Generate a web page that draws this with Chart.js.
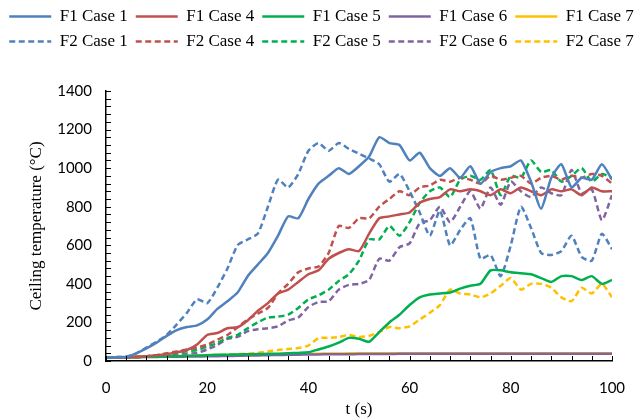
<!DOCTYPE html>
<html>
<head>
<meta charset="utf-8">
<script src="https://cdn.jsdelivr.net/npm/chart.js@4.4.1/dist/chart.umd.min.js"></script>
<style>
  body { margin: 0; background: #fff; }
</style>
</head>
<body>
<canvas id="chart-ceiling" width="643" height="420"></canvas>
<script>
const timeSec = [0, 2, 4, 6, 8, 10, 12, 14, 16, 18, 20, 22, 24, 26, 28, 30, 32, 34, 36, 38, 40, 42, 44, 46, 48, 50,
    52, 54, 56, 58, 60, 62, 64, 66, 68, 70, 72, 74, 76, 78, 80, 82, 84, 86, 88, 90, 92, 94, 96, 98, 100];

const f1Case1 = [20, 20, 22, 40, 65, 95, 130, 160, 176, 185, 215, 270, 310, 355, 440, 500, 560, 650, 750, 740, 840, 920, 960, 1000, 970, 1010,
    1060, 1160, 1130, 1120, 1040, 1080, 1000, 960, 1000, 950, 1010, 920, 980, 1000, 1010, 1040, 930, 790, 950, 1020, 900, 950, 940, 1020, 940];
const f1Case4 = [20, 20, 20, 22, 25, 30, 35, 45, 57, 85, 135, 145, 170, 175, 210, 260, 300, 350, 370, 410, 450, 470, 530, 560, 580, 570,
    660, 740, 750, 760, 770, 820, 840, 850, 890, 880, 890, 880, 860, 890, 870, 900, 880, 860, 890, 880, 890, 860, 900, 880, 880];
const f1Case5 = [20, 20, 20, 20, 22, 22, 24, 25, 27, 28, 30, 32, 33, 34, 35, 36, 37, 38, 40, 42, 45, 60, 75, 95, 120, 115,
    100, 150, 200, 240, 290, 330, 345, 350, 355, 375, 390, 400, 470, 470, 460, 455, 450, 430, 410, 440, 440, 420, 440, 400, 420];
const f1Case6 = [20, 20, 20, 20, 21, 21, 22, 22, 23, 23, 24, 25, 26, 27, 28, 29, 30, 31, 32, 33, 34, 34, 35, 35, 35, 36,
    36, 36, 36, 37, 37, 37, 37, 37, 37, 38, 38, 38, 38, 38, 38, 38, 38, 38, 38, 38, 38, 38, 38, 38, 38];
const f1Case7 = [20, 20, 20, 21, 22, 23, 24, 25, 26, 27, 28, 29, 30, 31, 32, 33, 34, 35, 36, 37, 38, 38, 39, 39, 40, 40,
    40, 40, 40, 40, 40, 40, 40, 40, 40, 40, 40, 40, 40, 40, 40, 40, 40, 40, 40, 40, 40, 40, 40, 40, 40];

const f2Case1 = [20, 20, 22, 40, 70, 100, 135, 190, 250, 320, 300, 380, 480, 600, 630, 660, 800, 940, 900, 970, 1090, 1130, 1090, 1130, 1100, 1075,
    1050, 1020, 930, 970, 880, 770, 650, 780, 600, 680, 740, 530, 550, 440, 600, 800, 690, 560, 550, 570, 650, 540, 520, 660, 580];
const f2Case4 = [20, 20, 20, 22, 25, 30, 40, 50, 60, 70, 85, 110, 135, 175, 215, 245, 275, 350, 400, 460, 480, 490, 560, 700, 690, 740,
    740, 800, 840, 880, 860, 900, 910, 940, 930, 950, 940, 920, 960, 940, 950, 960, 920, 950, 960, 940, 960, 950, 970, 960, 920];
const f2Case5 = [20, 20, 20, 22, 25, 30, 35, 42, 50, 57, 75, 93, 120, 135, 170, 200, 225, 230, 240, 275, 320, 340, 370, 415, 450, 520,
    630, 630, 700, 650, 720, 820, 880, 900, 850, 940, 960, 940, 990, 860, 960, 950, 1040, 980, 990, 930, 960, 1000, 930, 970, 950];
const f2Case6 = [20, 20, 20, 20, 22, 25, 28, 32, 38, 42, 60, 83, 115, 125, 155, 165, 170, 180, 210, 225, 280, 306, 310, 370, 395, 400,
    420, 530, 520, 590, 610, 715, 730, 800, 720, 800, 880, 790, 900, 810, 930, 880, 850, 900, 870, 860, 990, 870, 890, 730, 860];
const f2Case7 = [20, 20, 20, 20, 22, 22, 24, 25, 26, 28, 30, 32, 34, 36, 38, 42, 50, 57, 62, 67, 80, 118, 120, 124, 135, 125,
    130, 150, 176, 170, 180, 215, 250, 290, 370, 350, 345, 330, 350, 390, 430, 370, 400, 400, 380, 330, 310, 380, 350, 400, 330];

const caseColors = ['#4F81BD', '#C0504D', '#00B050', '#8064A2', '#FFC000'];
const caseNames = ['Case 1', 'Case 4', 'Case 5', 'Case 6', 'Case 7'];
const dashPattern = [6, 3.5];

const ctx = document.getElementById('chart-ceiling').getContext('2d');

function makeSet(label, values, color, dashed) {
    return {
        label: label,
        data: values.map(function (v, i) { return {x: timeSec[i], y: v}; }),
        borderColor: color,
        backgroundColor: color,
        borderWidth: 2.5,
        borderDash: dashed ? dashPattern : [],
        pointRadius: 0,
        tension: 0.2,
        fill: false
    };
}

const f1Sets = [f1Case1, f1Case4, f1Case5, f1Case6, f1Case7];
const f2Sets = [f2Case1, f2Case4, f2Case5, f2Case6, f2Case7];
const datasets = [];
f1Sets.forEach(function (vals, i) { datasets.push(makeSet('F1 ' + caseNames[i], vals, caseColors[i], false)); });
f2Sets.forEach(function (vals, i) { datasets.push(makeSet('F2 ' + caseNames[i], vals, caseColors[i], true)); });

// legend gets a fixed height so the plot top lands where it should
const legendSpace = {
    id: 'legendSpace',
    beforeInit(chart) {
        const fit = chart.legend.fit;
        chart.legend.fit = function () {
            fit.bind(chart.legend)();
            this.height = 91;
        };
    }
};

// small tick marks drawn on the inside of both axes
const innerTicks = {
    id: 'innerTicks',
    afterDraw(chart) {
        const c = chart.ctx;
        const xs = chart.scales.x;
        const ys = chart.scales.y;
        const area = chart.chartArea;
        c.save();
        c.strokeStyle = '#000';
        c.lineWidth = 1;
        c.beginPath();
        xs.ticks.forEach(function (t) {
            const px = Math.round(xs.getPixelForValue(t.value)) + 0.5;
            c.moveTo(px, area.bottom);
            c.lineTo(px, area.bottom - 5);
        });
        ys.ticks.forEach(function (t) {
            const py = Math.round(ys.getPixelForValue(t.value)) + 0.5;
            c.moveTo(area.left, py);
            c.lineTo(area.left + 5, py);
        });
        c.stroke();
        c.restore();
    }
};

new Chart(ctx, {
    type: 'line',
    data: { datasets: datasets },
    options: {
        responsive: false,
        animation: false,
        layout: { padding: 0 },
        plugins: {
            legend: {
                position: 'top',
                labels: {
                    usePointStyle: true,
                    pointStyle: 'line',
                    pointStyleWidth: 42,
                    padding: 8,
                    color: '#000',
                    font: { family: '"Liberation Serif", "Times New Roman", serif', size: 17 },
                    generateLabels: function (chart) {
                        return chart.data.datasets.map(function (ds, i) {
                            return {
                                text: ds.label,
                                datasetIndex: i,
                                fillStyle: ds.borderColor,
                                strokeStyle: ds.borderColor,
                                fontColor: '#000',
                                lineWidth: 2.5,
                                lineDash: ds.borderDash,
                                lineCap: 'butt',
                                pointStyle: 'line',
                                hidden: false
                            };
                        });
                    }
                }
            },
            tooltip: { enabled: false }
        },
        scales: {
            x: {
                type: 'linear',
                min: 0,
                max: 100,
                grid: { display: false },
                border: { display: true, color: '#000', width: 1.5 },
                ticks: {
                    stepSize: 4,
                    autoSkip: false,
                    maxRotation: 0,
                    padding: 10,
                    color: '#000',
                    font: { family: 'Lato, "Open Sans", sans-serif', size: 15 },
                    callback: function (v) { return v % 20 === 0 ? v : ''; }
                },
                title: {
                    display: true,
                    text: 't (s)',
                    color: '#000',
                    padding: { top: 6, bottom: 0 },
                    font: { family: '"Liberation Serif", "Times New Roman", serif', size: 17 }
                },
                afterFit: function (s) {
                    s.height = 59;
                    s.paddingRight = 31;
                }
            },
            y: {
                min: 0,
                max: 1400,
                grid: { display: false },
                border: { display: true, color: '#000', width: 1.5 },
                ticks: {
                    stepSize: 40,
                    autoSkip: false,
                    padding: 6,
                    color: '#000',
                    font: { family: 'Lato, "Open Sans", sans-serif', size: 15 },
                    callback: function (v) { return v % 200 === 0 ? v : ''; }
                },
                title: {
                    display: true,
                    text: 'Ceiling temperature (°C)',
                    color: '#000',
                    padding: { top: 26, bottom: 0 },
                    font: { family: '"Liberation Serif", "Times New Roman", serif', size: 17 }
                },
                afterFit: function (s) {
                    s.width = 106;
                }
            }
        }
    },
    plugins: [legendSpace, innerTicks]
});
</script>
</body>
</html>
